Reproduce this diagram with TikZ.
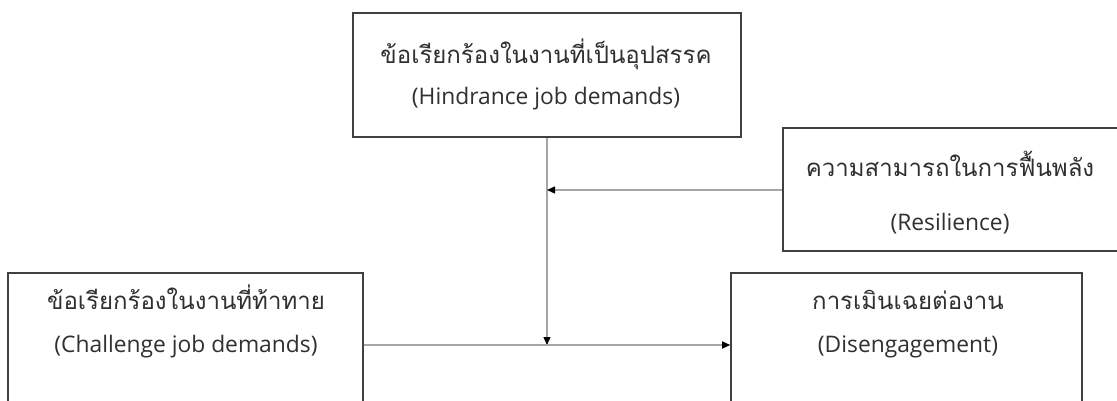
\documentclass[tikz,border=0pt]{standalone}
\usepackage{fontspec}
\setmainfont{Open Sans}
\newfontfamily\thaifont[Script=Thai]{Loma}
\usetikzlibrary{arrows.meta}
\definecolor{boxline}{HTML}{404040}
\definecolor{conn}{HTML}{A6A6A6}
\definecolor{txt}{HTML}{303030}
\begin{document}
\begin{tikzpicture}[x=1pt,y=-1pt,
  box/.style={draw=boxline,line width=1.6pt,inner sep=0pt},
  thai/.style={anchor=base,text=txt,font=\thaifont\fontsize{24}{28}\selectfont,inner sep=0pt},
  latin/.style={anchor=base,text=txt,font=\fontsize{22.8}{27}\selectfont,inner sep=0pt},
  conn/.style={draw=conn,line width=1.3pt},
  arr/.style={conn,-{Triangle[length=8pt,width=7pt,color=black]}}]
\useasboundingbox (0,0) rectangle (1117,401);
\clip (0,0) rectangle (1117,401);
\fill[white] (0,0) rectangle (1117,401);
% boxes
\node[box,minimum width=388pt,minimum height=124pt] (hd) at (547,75) {};
\node[box,minimum width=338pt,minimum height=123pt] (rs) at (952,189.5) {};
\node[box,minimum width=355pt,minimum height=157pt] (cd) at (185.5,351.5) {};
\node[box,minimum width=351pt,minimum height=157pt] (de) at (906.5,351.5) {};
% texts
\node[thai] (hdt) at (546,64) {ข้อเรียกร้องในงานที่เป็นอุปสรรค};
\node[latin] (hdl) at (546,105) {(Hindrance job demands)};
\node[thai] (rst) at (950,177) {ความสามารถในการฟื้นพลัง};
\node[latin] (rsl) at (950,230) {(Resilience)};
\node[thai] (cdt) at (186,309) {ข้อเรียกร้องในงานที่ท้าทาย};
\node[latin] (cdl) at (186,352) {(Challenge job demands)};
\node[thai] (det) at (908,309) {การเมินเฉยต่องาน};
\node[latin] (del) at (908,352) {(Disengagement)};
% connectors
\coordinate (m) at (547,345);
\coordinate (r) at (547,190);
\draw[conn] (hd.south) -- (r);
\draw[arr] (r) -- (m);
\draw[arr] (rs.west |- r) -- (r);
\draw[arr] (cd.east |- m) -- (de.west |- m);
\end{tikzpicture}
\end{document}
